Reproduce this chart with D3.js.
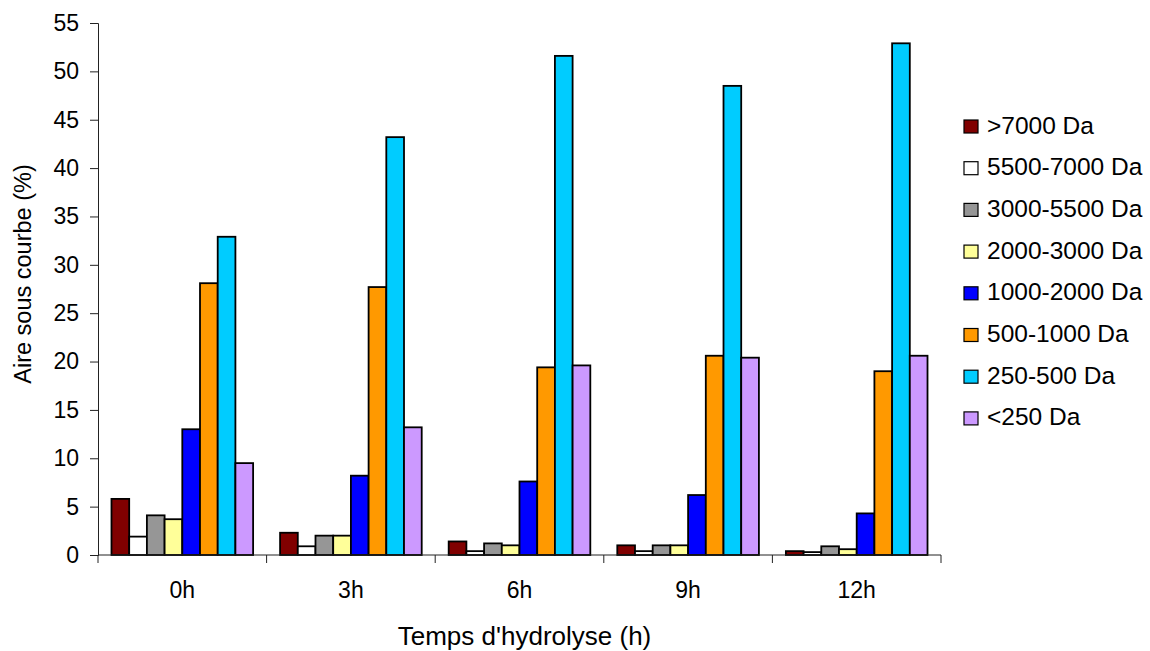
<!DOCTYPE html>
<html>
<head>
<meta charset="utf-8">
<script src="https://cdn.jsdelivr.net/npm/d3@7"></script>
<style>
  body { margin: 0; background: #fff; }
  svg text { font-family: "Liberation Sans", Arial, sans-serif; fill: #000; }
</style>
</head>
<body>
<svg id="chart" width="1150" height="651"></svg>
<script>
// categories (hydrolysis time)
const times = ["0h", "3h", "6h", "9h", "12h"];
// series labels and colours
const fractions = [">7000 Da", "5500-7000 Da", "3000-5500 Da", "2000-3000 Da",
                   "1000-2000 Da", "500-1000 Da", "250-500 Da", "<250 Da"];
const colors = ["#800000", "#ffffff", "#969696", "#ffff99",
                "#0000ff", "#ff9900", "#00ccff", "#cc99ff"];
// values per series, one per time
const gt7000   = [5.8, 2.3, 1.4, 1.0, 0.4];
const f5500    = [1.9, 0.9, 0.4, 0.4, 0.3];
const f3000    = [4.1, 2.0, 1.2, 1.0, 0.9];
const f2000    = [3.7, 2.0, 1.0, 1.0, 0.6];
const f1000    = [13.0, 8.2, 7.6, 6.2, 4.3];
const f500     = [28.1, 27.7, 19.4, 20.6, 19.0];
const f250     = [32.9, 43.2, 51.6, 48.5, 52.9];
const lt250    = [9.5, 13.2, 19.6, 20.4, 20.6];
const series = [gt7000, f5500, f3000, f2000, f1000, f500, f250, lt250];
const yTicks = d3.range(0, 56, 5);

const svg = d3.select("#chart");
const margin = {left: 98, right: 209, top: 23, bottom: 96};
const width = 1150 - margin.left - margin.right;
const height = 651 - margin.top - margin.bottom;
const g = svg.append("g").attr("transform", `translate(${margin.left},${margin.top})`);

const x0 = d3.scaleBand().domain(times).range([0, width]).paddingInner(0.16).paddingOuter(0.08);
const x1 = d3.scaleBand().domain(d3.range(fractions.length)).range([0, x0.bandwidth()]);
const y = d3.scaleLinear().domain([0, 55]).range([height, 0]);

// bars
times.forEach((t, i) => {
  g.append("g")
    .attr("transform", `translate(${x0(t)},0)`)
    .selectAll("rect")
    .data(series.map((s, k) => ({k, v: s[i]})))
    .join("rect")
    .attr("x", d => x1(d.k))
    .attr("y", d => y(d.v))
    .attr("width", x1.bandwidth())
    .attr("height", d => height - y(d.v))
    .attr("fill", d => colors[d.k])
    .attr("stroke", "#000")
    .attr("stroke-width", 1.8);
});

// y axis
const yAxis = g.append("g")
  .call(d3.axisLeft(y).tickValues(yTicks).tickSize(8).tickPadding(11));
yAxis.selectAll("text").attr("font-size", 23).attr("font-family", "Liberation Sans, Arial, sans-serif");
yAxis.select(".domain").attr("stroke", "#222");
yAxis.selectAll(".tick line").attr("stroke", "#222");

// x axis, ticks at band boundaries
const step = width / times.length;
const xa = g.append("g").attr("transform", `translate(0,${height})`);
xa.append("line").attr("x1", 0).attr("x2", width).attr("stroke", "#222");
xa.selectAll(".sep")
  .data(d3.range(times.length + 1))
  .join("line")
  .attr("x1", d => d * step).attr("x2", d => d * step)
  .attr("y1", 0).attr("y2", 8)
  .attr("stroke", "#222");
xa.selectAll(".lab")
  .data(times)
  .join("text")
  .attr("x", (d, i) => (i + 0.5) * step)
  .attr("y", 43)
  .attr("text-anchor", "middle")
  .attr("font-size", 23)
  .text(d => d);

// axis titles
svg.append("text")
  .attr("x", margin.left + width / 2 + 5)
  .attr("y", 645)
  .attr("text-anchor", "middle")
  .attr("font-size", 26)
  .text("Temps d'hydrolyse (h)");
svg.append("text")
  .attr("transform", "translate(31,274) rotate(-90)")
  .attr("text-anchor", "middle")
  .attr("font-size", 23.5)
  .text("Aire sous courbe (%)");

// legend
const legend = svg.append("g").attr("transform", "translate(964,120)");
const rows = legend.selectAll("g")
  .data(fractions)
  .join("g")
  .attr("transform", (d, i) => `translate(0,${i * 41.7})`);
rows.append("rect")
  .attr("width", 14).attr("height", 13)
  .attr("fill", (d, i) => colors[i])
  .attr("stroke", "#000").attr("stroke-width", 1.2);
rows.append("text")
  .attr("x", 23).attr("y", 13.5)
  .attr("font-size", 24.5)
  .text(d => d);
</script>
</body>
</html>
